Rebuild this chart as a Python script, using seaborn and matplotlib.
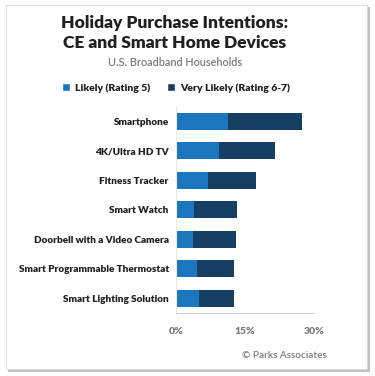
import matplotlib
matplotlib.use("Agg")
import matplotlib.pyplot as plt
import seaborn as sns
from matplotlib.patches import Rectangle, Patch

# =========================
# Data
# =========================
categories = [
    "Smartphone",
    "4K/Ultra HD TV",
    "Fitness Tracker",
    "Smart Watch",
    "Doorbell with a Video Camera",
    "Smart Programmable Thermostat",
    "Smart Lighting Solution",
]
likely = [11.3, 9.5, 7.1, 3.9, 3.7, 4.6, 5.0]          # Rating 5
very_likely = [16.2, 12.1, 10.3, 9.5, 9.3, 8.0, 7.6]   # Rating 6-7
totals = [a + b for a, b in zip(likely, very_likely)]
x_ticks = [0, 15, 30]
x_tick_labels = ["0%", "15%", "30%"]

LIGHT = "#1b76bd"
DARK = "#173f63"
TEXT = "#231f20"
GRAY = "#7a7a7a"

sns.set_style("white")
plt.rcParams["font.family"] = ["Lato", "DejaVu Sans"]

fig = plt.figure(figsize=(3.75, 3.76), dpi=100)
fig.patch.set_facecolor("white")

# --- card with drop shadow ---
W, H = 375, 376
fig.add_artist(Rectangle((8 / W, 1 - 372 / H), 362 / W, 365 / H,
                         transform=fig.transFigure, facecolor="#9a9a9a",
                         edgecolor="none", alpha=0.6, zorder=0))
fig.add_artist(Rectangle((6 / W, 1 - 369 / H), 361 / W, 364 / H,
                         transform=fig.transFigure, facecolor="white",
                         edgecolor="#d8d8d8", linewidth=0.6, zorder=0))

ax = fig.add_axes([175.7 / W, 1 - 313 / H, (314 - 175.7) / W, (313 - 105.8) / H])
ax.set_facecolor("none")

# stacked bars: total first (dark), then the "likely" part on top
sns.barplot(x=totals, y=categories, color=DARK, width=0.57, ax=ax,
            saturation=1, orient="h", linewidth=0)
sns.barplot(x=likely, y=categories, color=LIGHT, width=0.57, ax=ax,
            saturation=1, orient="h", linewidth=0)

ax.set_xlim(0, 30)
ax.set_ylim(6.5, -0.52)
ax.set_xticks(x_ticks)
ax.set_xticklabels(x_tick_labels, color=GRAY, fontsize=7.5, fontweight="heavy")
ax.tick_params(axis="x", length=0, pad=10)
ax.tick_params(axis="y", length=0, pad=5)
ax.set_yticks(range(len(categories)))
ax.set_yticklabels(categories, color=TEXT, fontsize=7.2, fontweight="heavy")
ax.set_xlabel("")
ax.set_ylabel("")

for s in ["top", "right"]:
    ax.spines[s].set_visible(False)
ax.spines["left"].set_color("#ececec")
ax.spines["left"].set_linewidth(0.8)
ax.spines["bottom"].set_color("#c8c8c8")
ax.spines["bottom"].set_linestyle((0, (1, 1.5)))
ax.spines["bottom"].set_linewidth(0.8)

# --- titles ---
fig.text(175 / W, 1 - 23 / H, "Holiday Purchase Intentions:", ha="center",
         va="center", fontsize=12.5, fontweight="heavy", color=TEXT)
fig.text(175 / W, 1 - 43 / H, "CE and Smart Home Devices", ha="center",
         va="center", fontsize=12.5, fontweight="heavy", color=TEXT)
fig.text(175 / W, 1 - 62 / H, "U.S. Broadband Households", ha="center",
         va="center", fontsize=7.8, fontweight="semibold", color=GRAY)

# --- legend ---
handles = [Patch(facecolor=LIGHT, label="Likely (Rating 5)"),
           Patch(facecolor=DARK, label="Very Likely (Rating 6-7)")]
leg = fig.legend(handles=handles, loc="center", ncol=2,
                 bbox_to_anchor=(176 / W, 1 - 88 / H), frameon=False,
                 handlelength=0.75, handleheight=0.75, handletextpad=0.5,
                 columnspacing=1.6, prop={"size": 7.5, "weight": "heavy"})
for t in leg.get_texts():
    t.set_color(TEXT)

# --- source ---
fig.text(327 / W, 1 - 355 / H, "\u00a9 Parks Associates", ha="right",
         va="center", fontsize=7.2, fontweight="semibold", color=GRAY)

fig.savefig("out.png", dpi=100)
